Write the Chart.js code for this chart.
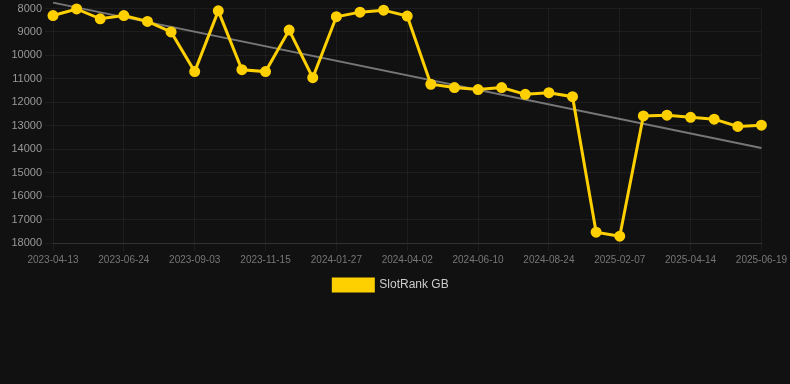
<!DOCTYPE html>
<html>
<head>
<meta charset="utf-8">
<script src="https://cdn.jsdelivr.net/npm/chart.js@4/dist/chart.umd.min.js"></script>
<style>
  html, body { margin: 0; padding: 0; background: #111111; }
  #wrap { width: 790px; height: 301px; position: relative; }
</style>
</head>
<body>
<div id="wrap"><canvas id="chart"></canvas></div>
<script>
// dates on the x axis (every third one is shown)
const dates = [
  "2023-04-13", "2023-05-06", "2023-05-31", "2023-06-24", "2023-07-18", "2023-08-10",
  "2023-09-03", "2023-09-27", "2023-10-21", "2023-11-15", "2023-12-09", "2024-01-02",
  "2024-01-27", "2024-02-18", "2024-03-11", "2024-04-02", "2024-04-25", "2024-05-18",
  "2024-06-10", "2024-07-05", "2024-07-30", "2024-08-24", "2024-10-17", "2024-12-12",
  "2025-02-07", "2025-03-01", "2025-03-23", "2025-04-14", "2025-05-06", "2025-05-28",
  "2025-06-19"
];

// rank values
const rankGB = [
  8300, 8020, 8440, 8300, 8550, 9000,
  10690, 8100, 10610, 10690, 8920, 10950,
  8350, 8155, 8070, 8325, 11230, 11370,
  11455, 11370, 11660, 11590, 11760, 17540,
  17710, 12580, 12550, 12640, 12720, 13030,
  12975
];

// trend line end points
const trendStart = 7750;
const trendEnd = 13950;

const yMin = 8000;
const yMax = 18000;

const last = dates.length - 1;
const trend = dates.map((d, i) => (i === 0 ? trendStart : i === last ? trendEnd : null));

new Chart(document.getElementById("chart"), {
  type: "line",
  data: {
    labels: dates,
    datasets: [
      {
        label: "SlotRank GB",
        data: rankGB,
        borderColor: "#FFD000",
        backgroundColor: "#FFD000",
        borderWidth: 3,
        pointRadius: 4,
        pointHoverRadius: 4,
        pointBackgroundColor: "#FFD000",
        pointBorderColor: "#FFD000",
        tension: 0,
        clip: false,
        order: 1
      },
      {
        label: "trend",
        data: trend,
        borderColor: "#777777",
        borderWidth: 2,
        pointRadius: 0,
        spanGaps: true,
        clip: false,
        order: 2
      }
    ]
  },
  options: {
    responsive: true,
    maintainAspectRatio: false,
    animation: false,
    layout: { autoPadding: false, padding: { left: 0, right: 8 } },
    scales: {
      x: {
        grid: { color: "rgba(255,255,255,0.05)" },
        border: { color: "#333333" },
        ticks: {
          color: "#777777",
          font: { family: "Arial, 'Liberation Sans', sans-serif", size: 10 },
          maxRotation: 0,
          autoSkip: true
        }
      },
      y: {
        reverse: true,
        min: yMin,
        max: yMax,
        grid: { color: "rgba(255,255,255,0.05)" },
        border: { display: false },
        afterFit: (scale) => { scale.width = 53; },
        ticks: {
          stepSize: 1000,
          color: "#999999",
          font: { family: "Arial, 'Liberation Sans', sans-serif", size: 11, lineHeight: 1 },
          callback: (v) => String(v)
        }
      }
    },
    plugins: {
      legend: {
        display: true,
        position: "bottom",
        labels: {
          color: "#cccccc",
          boxWidth: 40,
          boxHeight: 12,
          font: { family: "Arial, 'Liberation Sans', sans-serif", size: 12 },
          filter: (item) => item.text !== "trend"
        }
      },
      tooltip: { enabled: false }
    }
  }
});
</script>
</body>
</html>
